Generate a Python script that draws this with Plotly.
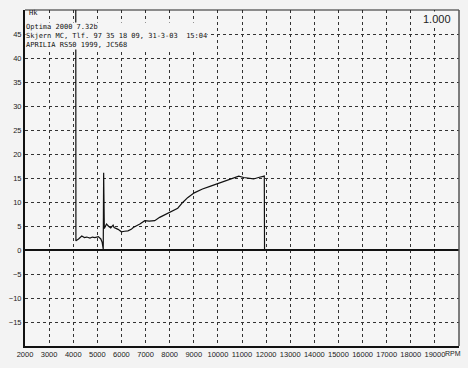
import plotly.graph_objects as go

# Data read from the dyno sheet (RPM vs. Hk)
rpm = [4105, 4112, 4220, 4355, 4465, 4560, 4695, 4795, 4900, 5040, 5145, 5200,
       5245, 5262, 5290, 5380, 5475, 5555, 5655, 5695, 5860, 6000, 6130, 6270,
       6405, 6490, 6765, 6970, 7150, 7380, 7585, 7855, 8130, 8335, 8540, 8745,
       9020, 9360, 9700, 9975, 10250, 10590, 10865, 11070, 11340, 11480, 11685,
       11850, 11925, 11935]
hk = [55, 1.9, 2.3, 2.9, 2.6, 2.7, 2.5, 2.7, 2.6, 2.8, 2.3, 1.6,
      0.2, 16.1, 4.5, 5.4, 4.9, 4.6, 5.2, 4.7, 4.3, 3.8, 3.9, 4.0,
      4.3, 4.7, 5.4, 6.1, 6.0, 6.1, 6.8, 7.5, 8.2, 8.7, 9.9, 10.9,
      11.9, 12.7, 13.3, 13.8, 14.2, 14.9, 15.4, 15.1, 14.9, 14.8, 15.1,
      15.4, 15.4, 0]

x_ticks = list(range(2000, 20000, 1000))
y_ticks = list(range(-15, 50, 5))
header_lines = ["Optima 2000 7.32b",
                "Skjern MC, Tlf. 97 35 18 09, 31-3-03  15:04",
                "APRILIA RS50 1999, JC568"]

fig = go.Figure()
fig.add_trace(go.Scatter(x=rpm, y=hk, mode="lines",
                         line=dict(color="#111", width=1.2),
                         showlegend=False, hoverinfo="skip"))

axis_font = dict(family="Liberation Sans, Arial, sans-serif", size=7.5, color="#222")
fig.update_layout(
    width=468, height=368,
    margin=dict(l=20, r=9, t=10, b=22),
    paper_bgcolor="#f3f3f3", plot_bgcolor="#f5f5f5",
    xaxis=dict(range=[2000, 20000], tickvals=x_ticks,
               ticktext=[str(v) for v in x_ticks],
               showgrid=True, gridcolor="#333", griddash="dot", gridwidth=1,
               showline=True, linecolor="#111", linewidth=2, mirror=False,
               zeroline=False, ticks="", tickfont=axis_font, fixedrange=True),
    yaxis=dict(range=[-20, 50], tickvals=y_ticks,
               showgrid=True, gridcolor="#333", griddash="dot", gridwidth=1,
               showline=True, linecolor="#111", linewidth=2, mirror=False,
               zeroline=True, zerolinecolor="#111", zerolinewidth=1.5,
               ticks="", tickfont=axis_font, fixedrange=True),
)

# Top and right frame lines
fig.add_shape(type="line", xref="paper", yref="paper", x0=0, x1=1, y0=1, y1=1,
              line=dict(color="#222", width=1))
fig.add_shape(type="line", xref="paper", yref="paper", x0=1, x1=1, y0=0, y1=1,
              line=dict(color="#555", width=1.5))

fig.add_annotation(xref="paper", yref="paper", x=0.005, y=0.99,
                   xanchor="left", yanchor="middle", text="Hk", showarrow=False,
                   font=dict(family="DejaVu Sans Mono, monospace", size=7, color="#111"))
fig.add_annotation(xref="paper", yref="paper", x=0.0, y=0.965,
                   xanchor="left", yanchor="top", align="left",
                   text="<br>".join(header_lines), showarrow=False,
                   bgcolor="#f5f5f5", borderpad=0,
                   font=dict(family="DejaVu Sans Mono, monospace", size=7, color="#111"))
fig.add_annotation(xref="paper", yref="paper", x=0.95, y=0.973,
                   xanchor="center", yanchor="middle", text="1.000", showarrow=False,
                   bgcolor="#f5f5f5", borderpad=1,
                   font=dict(family="Liberation Sans, Arial, sans-serif", size=11, color="#222"))
fig.add_annotation(xref="paper", yref="paper", x=0.964, y=-0.021,
                   xanchor="left", yanchor="middle", text="RPM", showarrow=False,
                   font=dict(family="Liberation Sans, Arial, sans-serif", size=7, color="#222"))

fig.write_html("out.html")
